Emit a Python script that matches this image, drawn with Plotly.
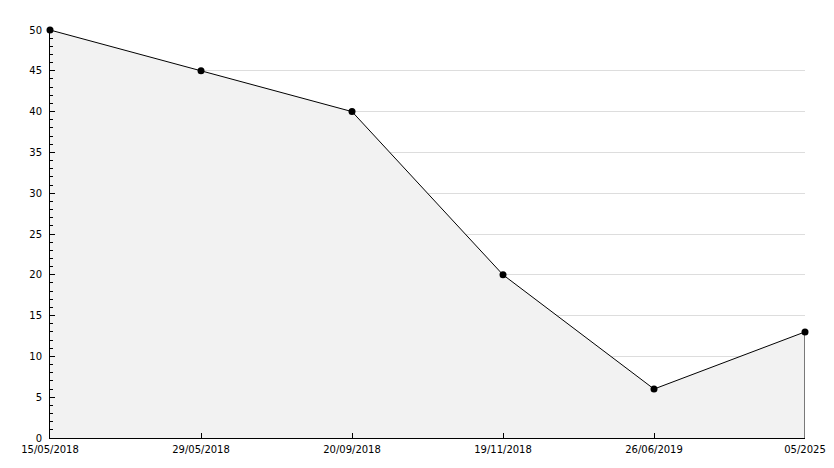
import plotly.graph_objects as go

dates = ["15/05/2018", "29/05/2018", "20/09/2018", "19/11/2018", "26/06/2019", "05/2025"]
values = [50, 45, 40, 20, 6, 13]
y_ticks = [0, 5, 10, 15, 20, 25, 30, 35, 40, 45, 50]

xs = list(range(len(dates)))

fig = go.Figure()
fig.add_trace(go.Scatter(
    x=xs, y=values, mode="lines", fill="tozeroy",
    fillcolor="#f2f2f2",
    line=dict(color="black", width=1),
    hoverinfo="skip",
))
fig.add_trace(go.Scatter(
    x=[xs[-1], xs[-1]], y=[0, values[-1]], mode="lines", cliponaxis=False,
    line=dict(color="black", width=1), hoverinfo="skip",
))
fig.add_trace(go.Scatter(
    x=xs, y=values, mode="markers", cliponaxis=False,
    marker=dict(color="black", size=7, symbol="circle"),
    hoverinfo="skip",
))

fig.update_layout(
    width=834, height=468,
    margin=dict(l=50, r=29, t=30, b=30, autoexpand=False),
    paper_bgcolor="white", plot_bgcolor="white",
    showlegend=False,
    font=dict(family="DejaVu Sans", size=10, color="black"),
)
fig.update_xaxes(
    range=[0, len(dates) - 1], tickvals=xs, ticktext=dates,
    showgrid=False, zeroline=False, automargin=False,
    showline=True, linecolor="black", linewidth=1,
    ticks="inside", ticklen=5, tickcolor="black",
    ticklabelstandoff=2,
)
fig.update_yaxes(
    range=[0, 50], tickvals=y_ticks, automargin=False,
    showgrid=True, gridcolor="#dddddd", gridwidth=1, zeroline=False,
    showline=True, linecolor="black", linewidth=1,
    ticks="inside", ticklen=5, tickcolor="black",
    ticklabelstandoff=5,
    minor=dict(dtick=1, ticks="inside", ticklen=3, tickcolor="black", showgrid=False),
)

fig.write_html("out.html", config={"displayModeBar": False},
               post_script="document.body.style.margin='0';document.body.style.padding='0';")
